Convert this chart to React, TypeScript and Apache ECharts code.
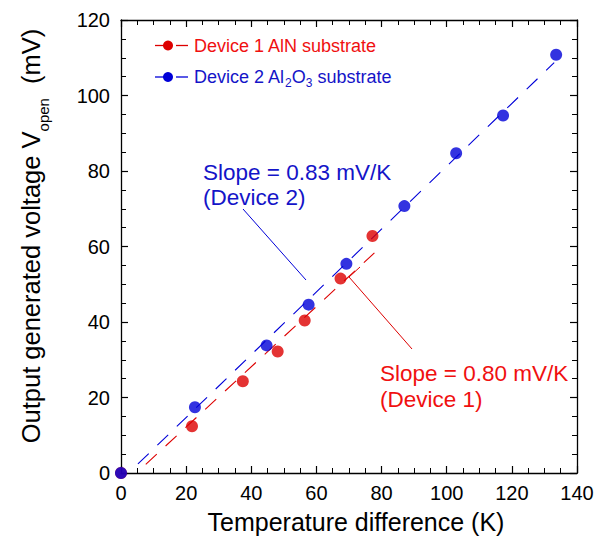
import React, { useEffect, useRef } from "react";
import * as echarts from "echarts";

const device1: [number, number][] = [
  [0, 0], [21.8, 12.4], [37.4, 24.3], [48.1, 32.2], [56.4, 40.4], [67.4, 51.5], [77.2, 62.8],
];
const device2: [number, number][] = [
  [0, 0], [22.7, 17.4], [44.7, 33.8], [57.6, 44.6], [69.2, 55.4], [87.0, 70.7], [102.9, 84.7], [117.3, 94.7], [133.6, 110.8],
];
const fit1: [number, number][] = [[7.6, 2.3], [77.8, 58.3]];
const fit2: [number, number][] = [[5.2, 2.4], [133.0, 108.7]];
const xTicks = { min: 0, max: 140, interval: 20 };
const yTicks = { min: 0, max: 120, interval: 20 };

const RED = "#dd0000";
const BLUE = "#0000d8";
const RED_T = "#f01010";
const BLUE_T = "#1414c8";
const FONT = "Liberation Sans, Arial, sans-serif";

export default function App() {
  const ref = useRef<HTMLDivElement>(null);
  useEffect(() => {
    if (!ref.current) return;
    const chart = echarts.init(ref.current, null, { renderer: "svg" });
    const axisCommon = {
      axisLine: { show: true, onZero: false, lineStyle: { color: "#000", width: 1.3 } },
      axisTick: { show: true, inside: true, length: 7, lineStyle: { color: "#000", width: 1.2 } },
      minorTick: { show: true, splitNumber: 4, length: 5, lineStyle: { color: "#000", width: 1 } },
      splitLine: { show: false },
    };
    chart.setOption({
      animation: false,
      grid: { left: 121, top: 20, right: 20, bottom: 63 },
      xAxis: [
        {
          type: "value", position: "bottom", ...xTicks, ...axisCommon,
          axisLabel: { color: "#000", fontSize: 20, fontFamily: FONT, margin: 10 },
          name: "Temperature difference (K)", nameLocation: "middle", nameGap: 36,
          nameTextStyle: { color: "#000", fontSize: 25, fontFamily: FONT, padding: [0, 0, 0, 14] },
        },
        {
          type: "value", position: "top", ...xTicks, ...axisCommon,
          axisLabel: { show: false },
        },
      ],
      yAxis: [
        {
          type: "value", position: "left", ...yTicks, ...axisCommon,
          axisLabel: { color: "#000", fontSize: 20, fontFamily: FONT, margin: 11 },
        },
        {
          type: "value", position: "right", ...yTicks, ...axisCommon,
          axisLabel: { show: false },
        },
      ],
      series: [
        {
          type: "line", data: fit1, showSymbol: false, symbol: "none",
          lineStyle: { color: RED, width: 1.1, type: [15, 12] }, z: 2,
        },
        {
          type: "line", data: fit2, showSymbol: false, symbol: "none",
          lineStyle: { color: BLUE, width: 1.1, type: [15, 12] }, z: 2,
        },
        {
          type: "scatter", data: device1, symbol: "circle", symbolSize: 12,
          itemStyle: { color: RED }, z: 3,
        },
        {
          type: "scatter", data: device2, symbol: "circle", symbolSize: 12,
          itemStyle: { color: BLUE }, z: 4,
        },
      ],
      graphic: [
        // y axis title
        {
          type: "text", x: 31, y: 236, rotation: Math.PI / 2,
          style: {
            text: "{n|Output generated voltage V}{s|open}{n|  (mV)}",
            align: "center", verticalAlign: "middle",
            rich: {
              n: { fontSize: 25.5, fontFamily: FONT, fill: "#000", lineHeight: 40, verticalAlign: "middle" },
              s: { fontSize: 15, fontFamily: FONT, fill: "#000", lineHeight: 14, verticalAlign: "bottom" },
            },
          },
        },
        // legend
        { type: "line", shape: { x1: 155, y1: 45.5, x2: 168, y2: 45.5 }, style: { stroke: RED, lineWidth: 1.3 } },
        { type: "line", shape: { x1: 176, y1: 45.5, x2: 188, y2: 45.5 }, style: { stroke: RED, lineWidth: 1.3 } },
        { type: "circle", shape: { cx: 168, cy: 45.5, r: 5 }, style: { fill: RED } },
        {
          type: "text", x: 194, y: 45.5,
          style: { text: "Device 1 AlN substrate", fill: RED_T, fontSize: 18, fontFamily: FONT, verticalAlign: "middle" },
        },
        { type: "line", shape: { x1: 155, y1: 77, x2: 168, y2: 77 }, style: { stroke: BLUE, lineWidth: 1.3 } },
        { type: "line", shape: { x1: 176, y1: 77, x2: 188, y2: 77 }, style: { stroke: BLUE, lineWidth: 1.3 } },
        { type: "circle", shape: { cx: 168, cy: 77, r: 5 }, style: { fill: BLUE } },
        {
          type: "text", x: 194, y: 77,
          style: {
            text: "{n|Device 2 Al}{s|2}{n|O}{s|3}{n| substrate}",
            verticalAlign: "middle",
            rich: {
              n: { fontSize: 18, fontFamily: FONT, fill: BLUE_T, lineHeight: 24, verticalAlign: "middle" },
              s: { fontSize: 12, fontFamily: FONT, fill: BLUE_T, lineHeight: 8, verticalAlign: "bottom" },
            },
          },
        },
        // annotations device 2
        {
          type: "text", x: 203, y: 172,
          style: { text: "Slope = 0.83 mV/K", fill: BLUE_T, fontSize: 22.5, fontFamily: FONT, verticalAlign: "middle" },
        },
        {
          type: "text", x: 203, y: 197,
          style: { text: "(Device 2)", fill: BLUE_T, fontSize: 22.5, fontFamily: FONT, verticalAlign: "middle" },
        },
        { type: "line", shape: { x1: 243, y1: 209, x2: 306, y2: 280 }, style: { stroke: BLUE, lineWidth: 1 } },
        // annotations device 1
        {
          type: "text", x: 380, y: 373,
          style: { text: "Slope = 0.80 mV/K", fill: RED_T, fontSize: 22.5, fontFamily: FONT, verticalAlign: "middle" },
        },
        {
          type: "text", x: 380, y: 399,
          style: { text: "(Device 1)", fill: RED_T, fontSize: 22.5, fontFamily: FONT, verticalAlign: "middle" },
        },
        {
          type: "polyline",
          shape: { points: [[360, 267], [349, 277], [412, 349]] },
          style: { stroke: RED, lineWidth: 1, fill: "none" },
        },
      ],
    });
    return () => chart.dispose();
  }, []);
  return <div ref={ref} style={{ width: 597, height: 539, position: "absolute", left: 0, top: 0 }} />;
}
